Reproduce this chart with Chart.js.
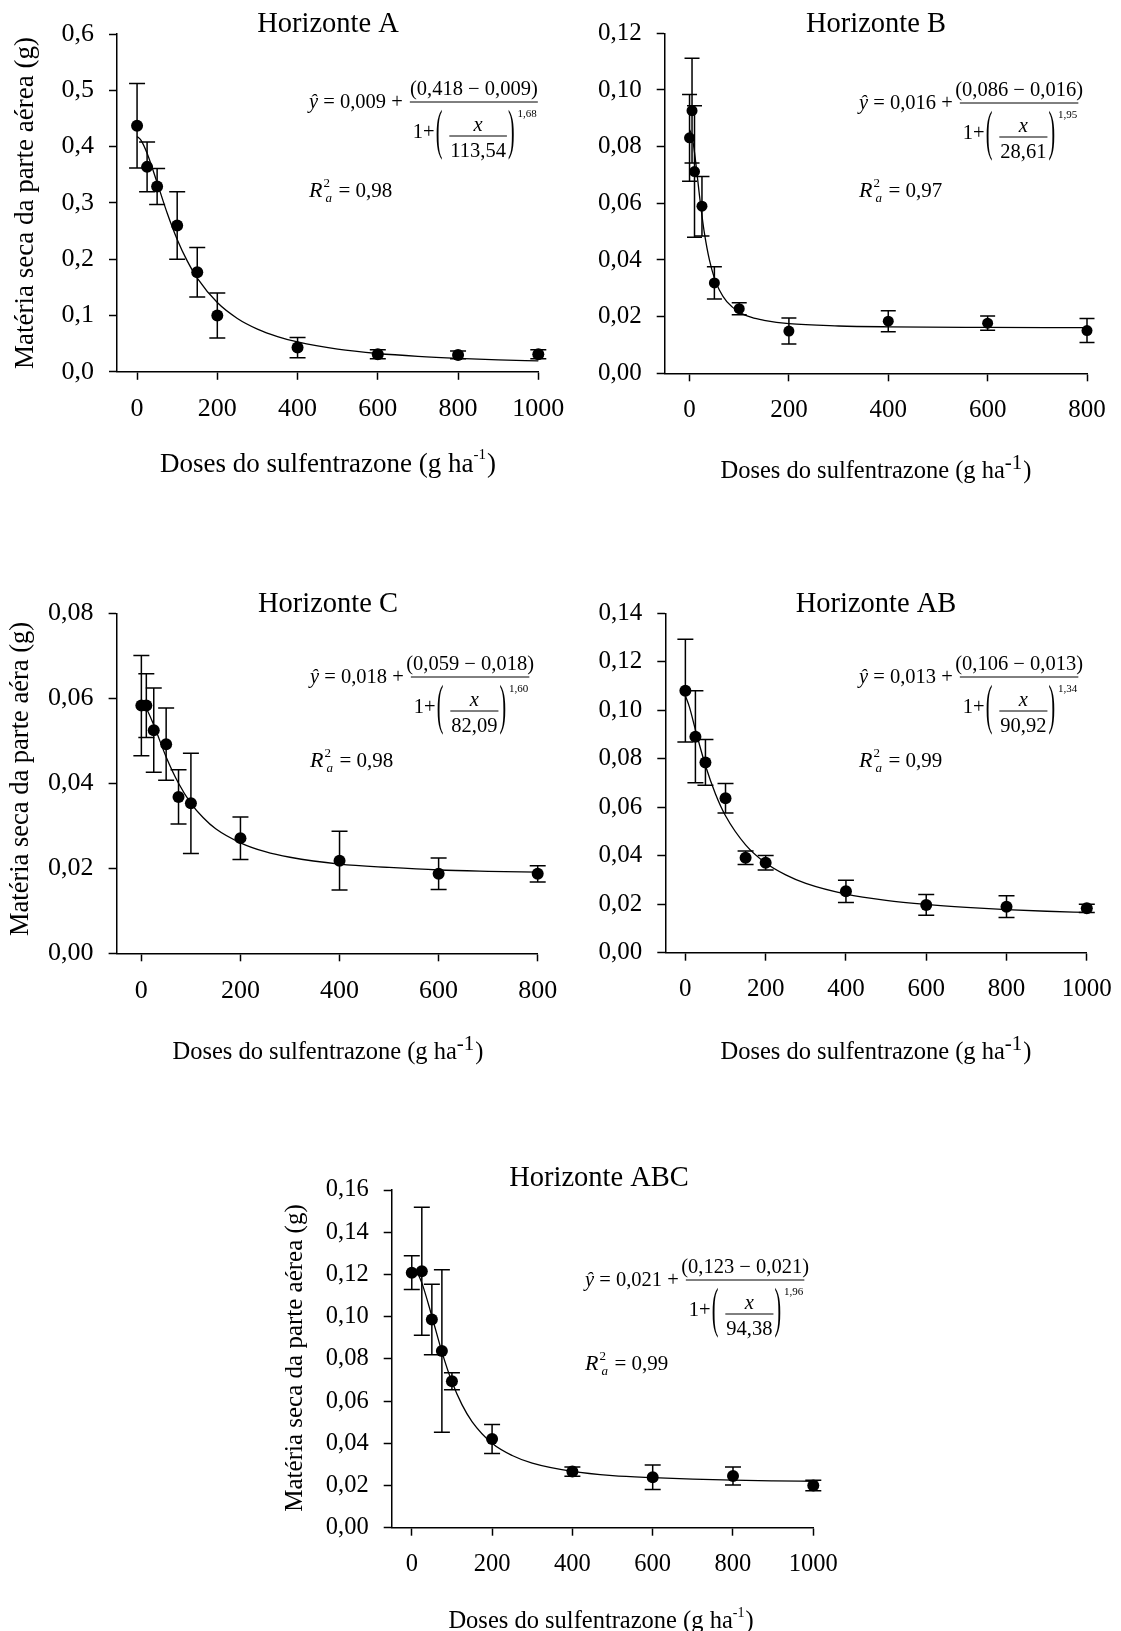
<!DOCTYPE html>
<html><head><meta charset="utf-8">
<script src="https://cdn.jsdelivr.net/npm/chart.js@4.4.1/dist/chart.umd.min.js"></script>
<style>
html,body{margin:0;padding:0;background:#fff;}
#wrap{position:relative;width:1121px;height:1631px;overflow:hidden;background:#fff;}
canvas{position:absolute;left:0;top:0;}
</style></head><body><div id="wrap">
<canvas id="cA" width="1121" height="1631"></canvas>
<canvas id="cB" width="1121" height="1631"></canvas>
<canvas id="cC" width="1121" height="1631"></canvas>
<canvas id="cD" width="1121" height="1631"></canvas>
<canvas id="cE" width="1121" height="1631"></canvas>
</div>
<script>
// ---------------- DATA ----------------
// Horizonte A
const dosesA = [0, 25, 50, 100, 150, 200, 400, 600, 800, 1000];
const meanA  = [0.437, 0.364, 0.329, 0.260, 0.177, 0.100, 0.043, 0.031, 0.030, 0.031];
const errA   = [0.075, 0.044, 0.032, 0.060, 0.044, 0.040, 0.018, 0.008, 0.007, 0.008];
const fitXA  = [0, 10, 25, 50, 75, 100, 125, 150, 200, 250, 300, 350, 400, 500, 600, 700, 800, 900, 1000];
const fitYA  = [0.418, 0.411, 0.388, 0.336, 0.282, 0.235, 0.197, 0.1665, 0.123, 0.0948, 0.0759, 0.0626, 0.053, 0.0403, 0.0325, 0.0274, 0.0238, 0.0212, 0.0193];
const xTicksA = [0, 200, 400, 600, 800, 1000];
const xLabelsA = ["0", "200", "400", "600", "800", "1000"];
const yTicksA = [0, 0.1, 0.2, 0.3, 0.4, 0.5, 0.6];
const yLabelsA = ["0,0", "0,1", "0,2", "0,3", "0,4", "0,5", "0,6"];
const eqA = ["0,009", "(0,418 − 0,009)", "113,54", "1,68", "0,98"];

// Horizonte B
const dosesB = [0, 5, 10, 25, 50, 100, 200, 400, 600, 800];
const meanB  = [0.0831, 0.0927, 0.0712, 0.0590, 0.0319, 0.0228, 0.0149, 0.0184, 0.0177, 0.0151];
const errB   = [0.0153, 0.0185, 0.0232, 0.0105, 0.0057, 0.0021, 0.0046, 0.0037, 0.0025, 0.0042];
const fitXB  = [0, 5, 10, 15, 20, 25, 30, 40, 50, 60, 75, 100, 125, 150, 200, 300, 400, 600, 800];
const fitYB  = [0.086, 0.0837, 0.078, 0.0705, 0.0627, 0.0556, 0.0494, 0.040, 0.0336, 0.0294, 0.0253, 0.0216, 0.0197, 0.0187, 0.0175, 0.0167, 0.0164, 0.0162, 0.0161];
const xTicksB = [0, 200, 400, 600, 800];
const xLabelsB = ["0", "200", "400", "600", "800"];
const yTicksB = [0, 0.02, 0.04, 0.06, 0.08, 0.10, 0.12];
const yLabelsB = ["0,00", "0,02", "0,04", "0,06", "0,08", "0,10", "0,12"];
const eqB = ["0,016", "(0,086 − 0,016)", "28,61", "1,95", "0,97"];

// Horizonte C
const dosesC = [0, 10, 25, 50, 75, 100, 200, 400, 600, 800];
const meanC  = [0.0583, 0.0583, 0.0525, 0.0492, 0.0368, 0.0353, 0.0271, 0.0218, 0.0187, 0.0187];
const errC   = [0.0118, 0.0075, 0.0099, 0.0085, 0.0064, 0.0118, 0.0050, 0.0069, 0.0037, 0.0019];
const fitXC  = [0, 10, 25, 50, 75, 100, 125, 150, 200, 250, 300, 400, 500, 600, 700, 800];
const fitYC  = [0.059, 0.0576, 0.0537, 0.0462, 0.040, 0.0353, 0.0319, 0.0293, 0.026, 0.0239, 0.0226, 0.021, 0.0202, 0.0196, 0.0193, 0.0191];
const xTicksC = [0, 200, 400, 600, 800];
const xLabelsC = ["0", "200", "400", "600", "800"];
const yTicksC = [0, 0.02, 0.04, 0.06, 0.08];
const yLabelsC = ["0,00", "0,02", "0,04", "0,06", "0,08"];
const eqC = ["0,018", "(0,059 − 0,018)", "82,09", "1,60", "0,98"];

// Horizonte AB
const dosesD = [0, 25, 50, 100, 150, 200, 400, 600, 800, 1000];
const meanD  = [0.1081, 0.0891, 0.0785, 0.0637, 0.0392, 0.0371, 0.0253, 0.0197, 0.0190, 0.0183];
const errD   = [0.0212, 0.0190, 0.0094, 0.0061, 0.0028, 0.0030, 0.0046, 0.0043, 0.0045, 0.0017];
const fitXD  = [0, 10, 25, 50, 75, 100, 150, 200, 250, 300, 400, 500, 600, 700, 800, 900, 1000];
const fitYD  = [0.106, 0.1014, 0.092, 0.0772, 0.0655, 0.0565, 0.0445, 0.037, 0.0321, 0.0286, 0.0242, 0.0216, 0.0199, 0.0187, 0.0178, 0.0171, 0.0166];
const xTicksD = [0, 200, 400, 600, 800, 1000];
const xLabelsD = ["0", "200", "400", "600", "800", "1000"];
const yTicksD = [0, 0.02, 0.04, 0.06, 0.08, 0.10, 0.12, 0.14];
const yLabelsD = ["0,00", "0,02", "0,04", "0,06", "0,08", "0,10", "0,12", "0,14"];
const eqD = ["0,013", "(0,106 − 0,013)", "90,92", "1,34", "0,99"];

// Horizonte ABC
const dosesE = [0, 25, 50, 75, 100, 200, 400, 600, 800, 1000];
const meanE  = [0.1208, 0.1215, 0.0986, 0.0837, 0.0694, 0.0420, 0.0266, 0.0239, 0.0245, 0.0200];
const errE   = [0.0080, 0.0303, 0.0167, 0.0385, 0.0040, 0.0069, 0.0022, 0.0058, 0.0043, 0.0025];
const fitXE  = [0, 10, 25, 50, 75, 100, 125, 150, 200, 250, 300, 400, 500, 600, 700, 800, 900, 1000];
const fitYE  = [0.123, 0.1218, 0.116, 0.1002, 0.0833, 0.0691, 0.0583, 0.0503, 0.040, 0.0342, 0.0306, 0.0267, 0.0247, 0.0237, 0.023, 0.0225, 0.0222, 0.022];
const xTicksE = [0, 200, 400, 600, 800, 1000];
const xLabelsE = ["0", "200", "400", "600", "800", "1000"];
const yTicksE = [0, 0.02, 0.04, 0.06, 0.08, 0.10, 0.12, 0.14, 0.16];
const yLabelsE = ["0,00", "0,02", "0,04", "0,06", "0,08", "0,10", "0,12", "0,14", "0,16"];
const eqE = ["0,021", "(0,123 − 0,021)", "94,38", "1,96", "0,99"];

// Text
const panelTitles = ["Horizonte A", "Horizonte B", "Horizonte C", "Horizonte AB", "Horizonte ABC"];
const xTitleMain = "Doses do sulfentrazone (g ha";
const xTitleSup = "-1";
const xTitleEnd = ")";
const yTitleA = "Matéria seca da parte aérea (g)";
const yTitleC = "Matéria seca da parte aéra (g)";
const yTitleE = "Matéria seca da parte aérea (g)";

// ---------------- LAYOUT / STYLE ----------------
const W = 1121, H = 1631;
const SERIF = "'Liberation Serif','Times New Roman',Times,serif";
Chart.defaults.font.family = SERIF;
Chart.defaults.color = '#000';

const layouts = [
  {id:'cA', L:117, R:538.3, T:34, B:371.8, xmax:1000, ymax:0.6, tf:26, r:6, cap:8,
   title:{x:328, y:25, s:28.5}, xt:{x:328, y:465, s:27, ss:15, raise:10},
   yt:{x:26, y:203, s:27, text:yTitleA}, eq:{x:309, yb:102, r2:197}},
  {id:'cB', L:664.7, R:1087, T:33.3, B:373.3, xmax:800, ymax:0.12, tf:25, r:5.5, cap:7.5,
   title:{x:876, y:25, s:28.5}, xt:{x:876, y:472, s:24.5, ss:21, raise:9},
   yt:null, eq:{x:859, yb:103, r2:197}},
  {id:'cC', L:116.6, R:537.7, T:613.3, B:953.3, xmax:800, ymax:0.08, tf:26, r:6, cap:8,
   title:{x:328, y:605, s:28.5}, xt:{x:328, y:1053, s:24.5, ss:21, raise:9},
   yt:{x:21, y:779, s:26.5, text:yTitleC}, eq:{x:310, yb:677, r2:767}},
  {id:'cD', L:665.3, R:1086.8, T:613.3, B:952.7, xmax:1000, ymax:0.14, tf:25, r:6, cap:8,
   title:{x:876, y:605, s:28.5}, xt:{x:876, y:1053, s:24.5, ss:21, raise:9},
   yt:null, eq:{x:859, yb:677, r2:767}},
  {id:'cE', L:391.7, R:813.3, T:1190, B:1527.7, xmax:1000, ymax:0.16, tf:24.5, r:6, cap:8,
   title:{x:599, y:1179, s:28.5}, xt:{x:601, y:1622, s:24.5, ss:14, raise:9},
   yt:{x:295, y:1358, s:25, text:yTitleE}, eq:{x:585, yb:1280, r2:1370}}
];

const panelData = [
  {doses:dosesA, mean:meanA, err:errA, fx:fitXA, fy:fitYA, xt:xTicksA, xl:xLabelsA, yt:yTicksA, yl:yLabelsA, eq:eqA},
  {doses:dosesB, mean:meanB, err:errB, fx:fitXB, fy:fitYB, xt:xTicksB, xl:xLabelsB, yt:yTicksB, yl:yLabelsB, eq:eqB},
  {doses:dosesC, mean:meanC, err:errC, fx:fitXC, fy:fitYC, xt:xTicksC, xl:xLabelsC, yt:yTicksC, yl:yLabelsC, eq:eqC},
  {doses:dosesD, mean:meanD, err:errD, fx:fitXD, fy:fitYD, xt:xTicksD, xl:xLabelsD, yt:yTicksD, yl:yLabelsD, eq:eqD},
  {doses:dosesE, mean:meanE, err:errE, fx:fitXE, fy:fitYE, xt:xTicksE, xl:xLabelsE, yt:yTicksE, yl:yLabelsE, eq:eqE}
];

// ---------------- PLUGINS ----------------
const errBarPlugin = {
  id: 'errbars',
  afterDatasetsDraw(chart, args, o) {
    const {ctx} = chart; const x = chart.scales.x, y = chart.scales.y;
    ctx.save();
    ctx.strokeStyle = '#000'; ctx.lineWidth = 1.5;
    o.xs.forEach((xv, i) => {
      const px = x.getPixelForValue(xv);
      const yt = y.getPixelForValue(o.ys[i] + o.es[i]);
      const yb = y.getPixelForValue(o.ys[i] - o.es[i]);
      ctx.beginPath();
      ctx.moveTo(px, yb); ctx.lineTo(px, yt);
      ctx.moveTo(px - o.cap, yt); ctx.lineTo(px + o.cap, yt);
      ctx.moveTo(px - o.cap, yb); ctx.lineTo(px + o.cap, yb);
      ctx.stroke();
    });
    ctx.restore();
  }
};

function bigParen(ctx, ch, x, cy) {
  ctx.save();
  ctx.font = '20px ' + SERIF;
  ctx.textBaseline = 'alphabetic'; ctx.textAlign = 'left';
  ctx.translate(x, cy);
  ctx.scale(1, 2.7);
  ctx.fillText(ch, 0, 0.24 * 20);
  const w = ctx.measureText(ch).width;
  ctx.restore();
  return w;
}

function hline(ctx, x0, x1, y) {
  ctx.beginPath(); ctx.moveTo(x0, y); ctx.lineTo(x1, y); ctx.stroke();
}

function drawEquation(ctx, e, p) {
  const F = 20.5;
  const reg = F + 'px ' + SERIF, ita = 'italic ' + F + 'px ' + SERIF;
  ctx.save();
  ctx.fillStyle = '#000'; ctx.strokeStyle = '#000'; ctx.lineWidth = 1;
  ctx.textBaseline = 'alphabetic'; ctx.textAlign = 'left';
  const yb = e.yb;
  let x = e.x;
  ctx.font = ita; ctx.fillText('ŷ', x, yb + 5.5); x += ctx.measureText('ŷ').width;
  ctx.font = reg; const s1 = ' = ' + p[0] + ' + ';
  ctx.fillText(s1, x, yb + 5.5); x += ctx.measureText(s1).width;
  const xb0 = x + 2;
  let xd = xb0 + 3;
  ctx.font = reg; ctx.fillText('1+', xd, yb + 36); xd += ctx.measureText('1+').width + 1;
  xd += bigParen(ctx, '(', xd, yb + 33) + 7;
  ctx.font = reg; const dw = ctx.measureText(p[2]).width;
  const innerW = dw + 2;
  ctx.font = ita; const xw = ctx.measureText('x').width;
  ctx.fillText('x', xd + innerW / 2 - xw / 2, yb + 28.5);
  hline(ctx, xd, xd + innerW, yb + 34);
  ctx.font = reg; ctx.fillText(p[2], xd + innerW / 2 - dw / 2, yb + 55);
  xd += innerW + 1;
  xd += bigParen(ctx, ')', xd, yb + 33);
  ctx.font = '11px ' + SERIF; ctx.fillText(p[3], xd + 3, yb + 15);
  xd += 3 + ctx.measureText(p[3]).width;
  const xb1 = xd + 1;
  hline(ctx, xb0, xb1, yb);
  ctx.font = reg; const nw = ctx.measureText(p[1]).width;
  ctx.fillText(p[1], (xb0 + xb1) / 2 - nw / 2, yb - 7);
  // R2 line
  let xr = e.x;
  ctx.font = 'italic 22px ' + SERIF; ctx.fillText('R', xr, e.r2); xr += ctx.measureText('R').width;
  ctx.font = '13px ' + SERIF; ctx.fillText('2', xr + 1, e.r2 - 10);
  ctx.font = 'italic 13px ' + SERIF; ctx.fillText('a', xr + 3, e.r2 + 5);
  xr += 16;
  ctx.font = '21px ' + SERIF; ctx.fillText('= ' + p[4], xr, e.r2);
  ctx.restore();
}

const decorPlugin = {
  id: 'decor',
  afterDraw(chart, args, o) {
    const ctx = chart.ctx; const Lo = o.lay;
    ctx.save();
    ctx.fillStyle = '#000';
    // title
    ctx.font = Lo.title.s + 'px ' + SERIF; ctx.textAlign = 'center'; ctx.textBaseline = 'middle';
    ctx.fillText(o.title, Lo.title.x, Lo.title.y);
    // x title with superscript
    ctx.textAlign = 'left'; ctx.textBaseline = 'middle';
    const fm = Lo.xt.s + 'px ' + SERIF, fs = Lo.xt.ss + 'px ' + SERIF;
    ctx.font = fm; const w1 = ctx.measureText(xTitleMain).width; const w3 = ctx.measureText(xTitleEnd).width;
    ctx.font = fs; const w2 = ctx.measureText(xTitleSup).width;
    let x0 = Lo.xt.x - (w1 + w2 + w3 + 1) / 2;
    ctx.font = fm; ctx.fillText(xTitleMain, x0, Lo.xt.y);
    ctx.font = fs; ctx.fillText(xTitleSup, x0 + w1, Lo.xt.y - Lo.xt.raise);
    ctx.font = fm; ctx.fillText(xTitleEnd, x0 + w1 + w2 + 1, Lo.xt.y);
    // y title
    if (Lo.yt) {
      ctx.save();
      ctx.translate(Lo.yt.x, Lo.yt.y); ctx.rotate(-Math.PI / 2);
      ctx.font = Lo.yt.s + 'px ' + SERIF; ctx.textAlign = 'center'; ctx.textBaseline = 'middle';
      ctx.fillText(Lo.yt.text, 0, 0);
      ctx.restore();
    }
    ctx.restore();
    drawEquation(ctx, Lo.eq, o.eq);
  }
};

// ---------------- CHARTS ----------------
function makeChart(Lo, D, title) {
  const SW = 100;
  return new Chart(document.getElementById(Lo.id), {
    type: 'scatter',
    data: { datasets: [
      { data: D.doses.map((d, i) => ({x: d, y: D.mean[i]})), showLine: false,
        pointRadius: Lo.r, pointHoverRadius: Lo.r, pointBackgroundColor: '#000',
        pointBorderColor: '#000', pointBorderWidth: 0, clip: false },
      { data: D.fx.map((d, i) => ({x: d, y: D.fy[i]})), showLine: true, fill: false,
        pointRadius: 0, pointHoverRadius: 0, borderColor: '#000', borderWidth: 1.3,
        cubicInterpolationMode: 'monotone', clip: false }
    ]},
    options: {
      responsive: false, animation: false, devicePixelRatio: 1, events: [],
      layout: { padding: { left: Lo.L - SW, top: Lo.T, right: W - Lo.R, bottom: H - Lo.B - SW } },
      plugins: {
        legend: {display: false}, tooltip: {enabled: false}, title: {display: false},
        errbars: { xs: D.doses, ys: D.mean, es: D.err, cap: Lo.cap },
        decor: { lay: Lo, title: title, eq: D.eq }
      },
      scales: {
        x: {
          type: 'linear', min: -50, max: Lo.xmax,
          afterBuildTicks: s => { s.ticks = D.xt.map(v => ({value: v})); },
          afterFit: s => { s.height = SW; s.paddingLeft = 0; s.paddingRight = 0; s.paddingTop = 0; s.paddingBottom = 0; },
          ticks: { callback: (v, i) => D.xl[i], padding: 14, font: {size: Lo.tf, family: SERIF}, color: '#000', maxRotation: 0, autoSkip: false },
          grid: { drawOnChartArea: false, drawTicks: true, tickLength: 8, tickColor: '#000', tickWidth: 1.5 },
          border: { display: true, color: '#000', width: 1.5 }
        },
        y: {
          type: 'linear', min: 0, max: Lo.ymax,
          afterBuildTicks: s => { s.ticks = D.yt.map(v => ({value: v})); },
          afterFit: s => { s.width = SW; s.paddingLeft = 0; s.paddingRight = 0; s.paddingTop = 0; s.paddingBottom = 0; },
          ticks: { callback: (v, i) => D.yl[i], padding: 15, font: {size: Lo.tf, family: SERIF}, color: '#000', autoSkip: false },
          grid: { drawOnChartArea: false, drawTicks: true, tickLength: 8, tickColor: '#000', tickWidth: 1.5 },
          border: { display: true, color: '#000', width: 1.5 }
        }
      }
    },
    plugins: [errBarPlugin, decorPlugin]
  });
}

layouts.forEach((Lo, i) => makeChart(Lo, panelData[i], panelTitles[i]));
</script>
</body></html>
